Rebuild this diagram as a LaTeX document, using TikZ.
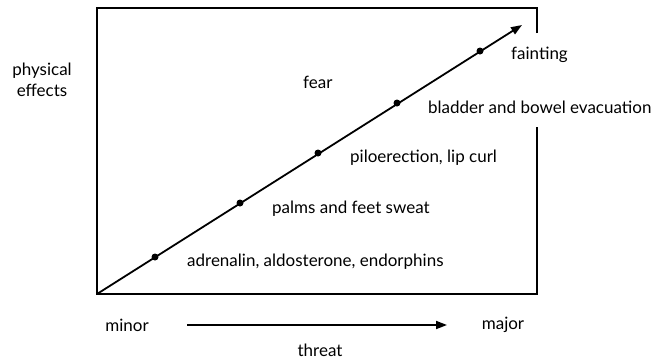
\documentclass[tikz,border=0pt]{standalone}
\usepackage{fontspec}
\setmainfont{Lato}
\usetikzlibrary{arrows.meta}
\tikzset{
  frame/.style={line width=1.8pt, line join=miter},
  axisline/.style={line width=1.8pt, -{Triangle[length=11pt,width=8pt]}},
  dotmark/.style={circle, fill=black, inner sep=0pt, minimum size=7pt},
  lbl/.style={font=\fontsize{17}{20}\selectfont, inner sep=0pt, anchor=west},
  clbl/.style={font=\fontsize{17}{21}\selectfont, inner sep=0pt, align=center},
}
\begin{document}
\begin{tikzpicture}[x=1pt,y=-1pt]
\useasboundingbox (0,0) rectangle (656,360);
% frame with gap on the right side
\coordinate (o) at (97,294);
\coordinate (tip) at (522,25);
\draw[frame] (537,33) -- (537,8) -- (97,8) -- (o) -- (537,294) -- (537,127);
% diagonal
\draw[axisline] (o) -- (tip);
\node[dotmark] (d1) at (155,257) {};
\node[dotmark] (d2) at (240,203) {};
\node[dotmark] (d3) at (318,153) {};
\node[dotmark] (d4) at (397,103) {};
\node[dotmark] (d5) at (480,51) {};
% labels
\node[lbl] (l1) at (187,262) {adrenalin, aldosterone, endorphins};
\node[lbl] (l2) at (272,209) {palms and feet sweat};
\node[lbl] (l3) at (350,158) {piloerection, lip curl};
\node[lbl] (l4) at (428,107) {bladder and bowel evacuation};
\node[lbl] (l5) at (511,55) {fainting};
\node[lbl] (fear) at (303,82) {fear};
\node[clbl] (pe) at (42,80) {physical\\effects};
% threat axis
\node[clbl] (minor) at (127,325) {minor};
\node[clbl] (major) at (503,325) {major};
\node[clbl] (threat) at (320,350) {threat};
\coordinate (hs) at (187,325);
\coordinate (he) at (447,325);
\draw[axisline] (hs) -- (he);
\end{tikzpicture}
\end{document}
